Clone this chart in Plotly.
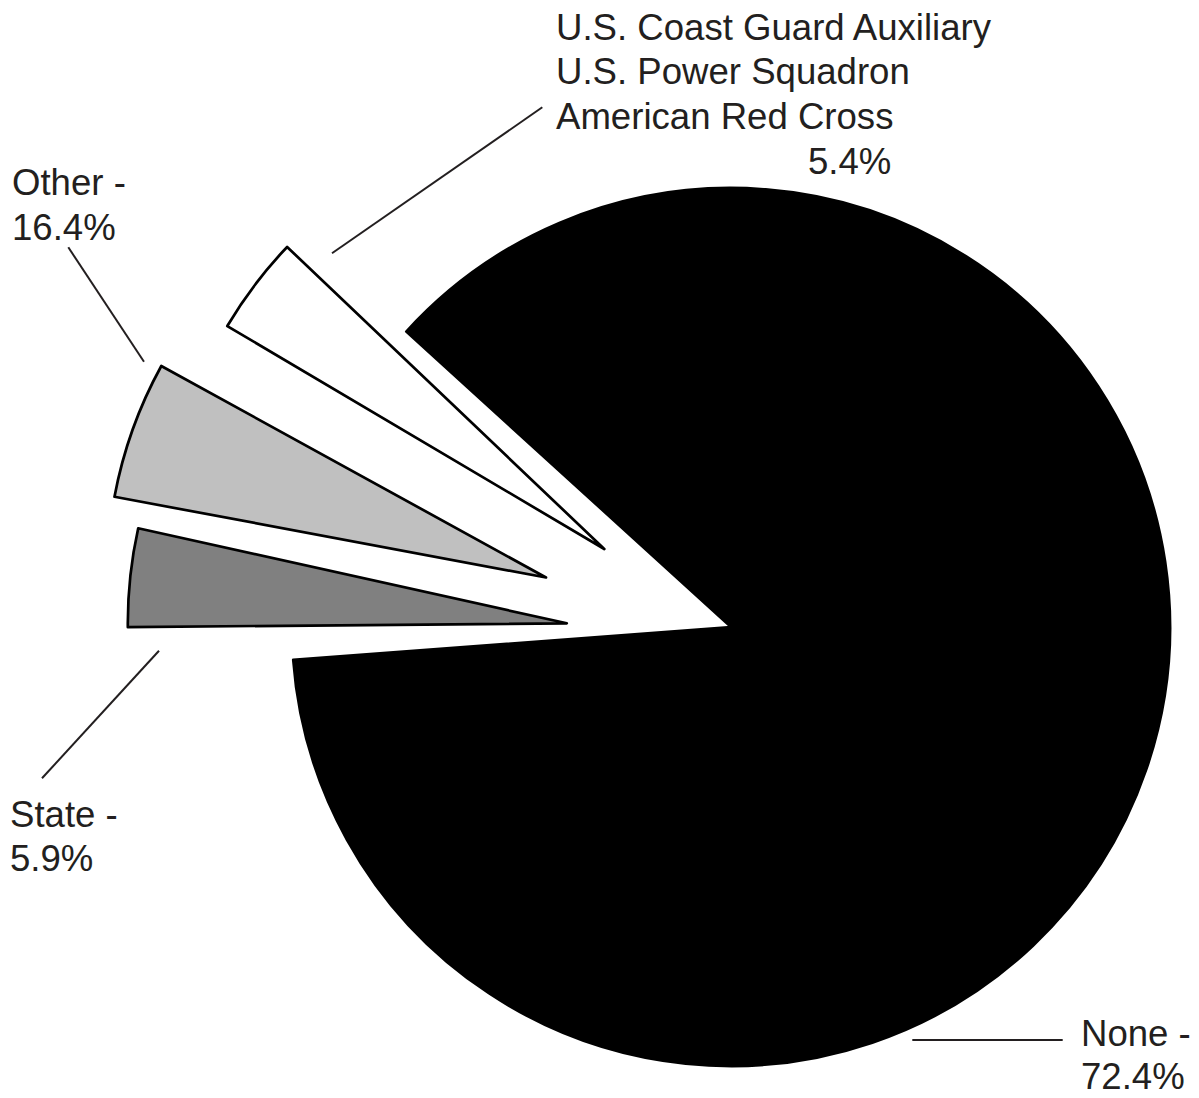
import plotly.graph_objects as go

# ---- data ----
categories = ["None", "Coast Guard Aux. / Power Squadron / Red Cross", "Other", "State"]
percent_labels = [72.4, 5.4, 16.4, 5.9]
# angular sweep of each wedge as drawn in the reference artwork (degrees; art not to scale)
drawn_sweep_deg = [313.4, 13.0, 18.2, 13.0]
org_label_lines = ["U.S. Coast Guard Auxiliary", "U.S. Power Squadron", "American Red Cross"]

fill_colors = ["#000000", "#ffffff", "#c0c0c0", "#808080"]

W, H = 1199, 1098
TXT = "#231f20"
FONT = dict(family="Liberation Sans, Arial, Helvetica, sans-serif", size=36.6, color=TXT)

# placement of each wedge: (apex x px, apex y px, radius px, start angle clockwise from 12 o'clock)
placement = [
    (731.0, 627.0, 439.0, -47.7),
    (604.3, 549.0, 438.0, -59.4),
    (546.0, 577.5, 439.0, -79.4),
    (566.8, 623.3, 439.0, -90.5),
]

fig = go.Figure()
for cat, val, col, (cx, cy, r, rot) in zip(categories, drawn_sweep_deg, fill_colors, placement):
    fig.add_trace(go.Pie(
        labels=[cat, "_gap"],
        values=[val, 360 - val],
        sort=False,
        direction="clockwise",
        rotation=rot,
        marker=dict(colors=[col, "rgba(0,0,0,0)"],
                    line=dict(color="#000000", width=[2.7, 0])),
        textinfo="none",
        hoverinfo="label",
        showlegend=False,
        domain=dict(x=[(cx - r) / W, (cx + r) / W],
                    y=[1 - (cy + r) / H, 1 - (cy - r) / H]),
    ))

def px(x):
    return x / W

def py(y):
    return 1 - y / H

annotations = []
def label(text, x, yc, anchor="left"):
    annotations.append(dict(text=text, x=px(x), y=py(yc), xref="paper", yref="paper",
                            xanchor=anchor, yanchor="middle", showarrow=False,
                            font=FONT, align=anchor))

# organisation label (multi-line) + percentage
for i, line in enumerate(org_label_lines):
    label(line, 554, 27.3 + 44.5 * i)
label(f"{percent_labels[1]}%", 893, 161.3, anchor="right")
# other labels
label(f"{categories[2]} -", 10, 182)
label(f"{percent_labels[2]}%", 10, 227.3)
label(f"{categories[3]} -", 8, 814)
label(f"{percent_labels[3]}%", 8, 858.7)
label(f"{categories[0]} -", 1078.5, 1033)
label(f"{percent_labels[0]}%", 1078.5, 1076)

leader_lines = [
    ((332, 253.3), (542.3, 107.3)),
    ((68.3, 247.3), (144, 361.7)),
    ((159, 650.7), (42, 778.3)),
    ((912.3, 1040), (1062.7, 1040)),
]
shapes = [dict(type="line", xref="paper", yref="paper",
               x0=px(a[0]), y0=py(a[1]), x1=px(b[0]), y1=py(b[1]),
               line=dict(color=TXT, width=2)) for a, b in leader_lines]

fig.update_layout(
    width=W, height=H,
    margin=dict(l=0, r=0, t=0, b=0),
    paper_bgcolor="white", plot_bgcolor="white",
    annotations=annotations, shapes=shapes,
    showlegend=False,
)
fig.write_html("out.html", config={"displayModeBar": False},
               post_script="document.body.style.margin='0';document.body.style.overflow='hidden';")
